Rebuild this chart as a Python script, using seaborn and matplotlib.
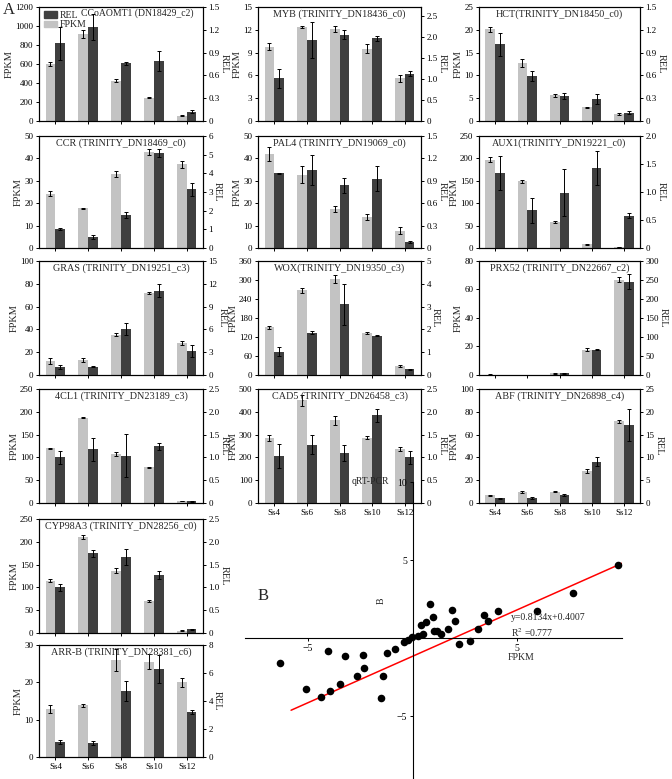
import numpy as np
import pandas as pd
import matplotlib
matplotlib.use("Agg")
import matplotlib.pyplot as plt
import matplotlib.patches as mpatches
import seaborn as sns

sns.set_theme(style="ticks")
plt.rcParams["font.family"] = ["Liberation Serif", "DejaVu Serif"]
plt.rcParams["mathtext.fontset"] = "stix"

STAGES = ["Ss4", "Ss6", "Ss8", "Ss10", "Ss12"]
LIGHT = "#c3c3c3"
DARK = "#3f3f3f"

# ---------------- data ----------------
CCOAOMT1_FPKM = [600, 915, 425, 245, 55]
CCOAOMT1_FPKM_ERR = [22, 40, 15, 4, 5]
CCOAOMT1_REL = [1.02, 1.24, 0.76, 0.79, 0.125]
CCOAOMT1_REL_ERR = [0.22, 0.17, 0.02, 0.13, 0.02]

MYB_FPKM = [9.8, 12.4, 12.1, 9.5, 5.6]
MYB_FPKM_ERR = [0.45, 0.15, 0.35, 0.6, 0.45]
MYB_REL = [1.02, 1.93, 2.06, 1.97, 1.13]
MYB_REL_ERR = [0.23, 0.43, 0.1, 0.06, 0.06]

HCT_FPKM = [20.1, 12.7, 5.6, 3.0, 1.6]
HCT_FPKM_ERR = [0.6, 0.8, 0.3, 0.1, 0.2]
HCT_REL = [1.01, 0.59, 0.33, 0.29, 0.11]
HCT_REL_ERR = [0.15, 0.07, 0.04, 0.06, 0.02]

CCR_FPKM = [24.3, 17.7, 33.0, 43.0, 37.3]
CCR_FPKM_ERR = [1.3, 0.3, 1.2, 1.3, 1.5]
CCR_REL = [1.0, 0.6, 1.78, 5.1, 3.15]
CCR_REL_ERR = [0.05, 0.1, 0.17, 0.2, 0.35]

PAL4_FPKM = [42.0, 32.8, 17.4, 13.8, 7.7]
PAL4_FPKM_ERR = [3.0, 4.0, 1.5, 1.5, 1.5]
PAL4_REL = [1.0, 1.05, 0.84, 0.93, 0.08]
PAL4_REL_ERR = [0.01, 0.2, 0.1, 0.17, 0.01]

AUX1_FPKM = [197, 149, 58, 8, 2]
AUX1_FPKM_ERR = [6, 3, 2, 0.5, 0.3]
AUX1_REL = [1.34, 0.67, 0.99, 1.43, 0.58]
AUX1_REL_ERR = [0.31, 0.22, 0.42, 0.3, 0.04]

GRAS_FPKM = [12.0, 13.0, 35.5, 72.0, 28.0]
GRAS_FPKM_ERR = [2.5, 2.0, 1.5, 1.0, 2.0]
GRAS_REL = [1.05, 1.1, 6.0, 11.1, 3.2]
GRAS_REL_ERR = [0.3, 0.1, 0.8, 0.9, 0.8]

WOX_FPKM = [151, 268, 303, 133, 28]
WOX_FPKM_ERR = [5, 8, 12, 3, 2]
WOX_REL = [1.03, 1.85, 3.1, 1.73, 0.25]
WOX_REL_ERR = [0.18, 0.07, 0.9, 0.03, 0.03]

PRX52_FPKM = [0.3, 0.2, 1.2, 17.8, 67.0]
PRX52_FPKM_ERR = [0.1, 0.1, 0.2, 0.8, 2.0]
PRX52_REL = [1.0, 0.5, 4.0, 67.0, 245.0]
PRX52_REL_ERR = [0.2, 0.1, 0.5, 1.5, 20.0]

CL1_FPKM = [120, 187, 107, 78, 4]
CL1_FPKM_ERR = [1.5, 1.0, 4.0, 2.0, 0.5]
CL1_REL = [1.0, 1.18, 1.04, 1.24, 0.04]
CL1_REL_ERR = [0.14, 0.25, 0.48, 0.08, 0.01]

CAD5_FPKM = [285, 450, 362, 287, 236]
CAD5_FPKM_ERR = [15, 25, 18, 7, 8]
CAD5_REL = [1.03, 1.28, 1.1, 1.92, 1.0]
CAD5_REL_ERR = [0.26, 0.21, 0.17, 0.14, 0.15]

ABF_FPKM = [6.8, 9.5, 10.0, 28.0, 71.5]
ABF_FPKM_ERR = [0.5, 0.8, 0.5, 1.5, 1.0]
ABF_REL = [1.0, 1.15, 1.8, 9.1, 17.2]
ABF_REL_ERR = [0.2, 0.2, 0.2, 1.0, 3.5]

CYP98A3_FPKM = [115, 210, 137, 70, 5]
CYP98A3_FPKM_ERR = [3, 4, 5, 2, 1]
CYP98A3_REL = [1.0, 1.75, 1.67, 1.27, 0.08]
CYP98A3_REL_ERR = [0.08, 0.08, 0.17, 0.08, 0.01]

ARRB_FPKM = [12.8, 13.8, 26.0, 25.5, 20.0]
ARRB_FPKM_ERR = [1.0, 0.5, 3.0, 2.0, 1.2]
ARRB_REL = [1.07, 1.0, 4.7, 6.3, 3.2]
ARRB_REL_ERR = [0.15, 0.15, 0.7, 1.0, 0.15]

# scatter (panel B): FPKM vs qRT-PCR changes
SCATTER_FPKM = [9.81, 7.66, 5.95, 4.08, 3.61, 3.41, 3.13, 2.75, 2.22, 2.03, 1.70, 1.36, 1.17,
                0.98, 0.84, 0.64, 0.41, 0.26, -0.02, -0.21, -0.41, -0.84, -1.22, -1.41,
                -1.50, -2.32, -2.65, -3.46, -3.94, -4.37, -5.09, -6.33, -4.04, -3.22,
                -2.36, 0.50, 1.00, 1.89]
SCATTER_QPCR = [4.69, 2.90, 1.75, 1.75, 1.11, 1.49, 0.60, -0.17, -0.36, 1.11, 0.60, 0.28, 0.47,
                1.36, 2.19, 1.04, 0.85, 0.15, 0.08, -0.11, -0.24, -0.68, -0.94, -2.41,
                -3.82, -1.90, -2.41, -2.92, -3.37, -3.76, -3.24, -1.58, -0.81, -1.13,
                -1.07, 0.28, 0.47, 1.81]
# ends of the red fitted line as drawn in the picture
FIT_LINE_X = [-5.8, 10.0]
FIT_LINE_Y = [-4.6, 4.8]

PANELS = [
    # title, fpkm, fpkm_err, rel, rel_err, col, row, fpkm_max, fpkm_step, rel_max, rel_ticks
    ("CCoAOMT1 (DN18429_c2)", CCOAOMT1_FPKM, CCOAOMT1_FPKM_ERR, CCOAOMT1_REL, CCOAOMT1_REL_ERR, 0, 0, 1200, 200, 1.5, [0, 0.3, 0.6, 0.9, 1.2, 1.5]),
    ("MYB (TRINITY_DN18436_c0)", MYB_FPKM, MYB_FPKM_ERR, MYB_REL, MYB_REL_ERR, 1, 0, 15, 3, 2.72, [0, 0.5, 1.0, 1.5, 2.0, 2.5]),
    ("HCT(TRINITY_DN18450_c0)", HCT_FPKM, HCT_FPKM_ERR, HCT_REL, HCT_REL_ERR, 2, 0, 25, 5, 1.5, [0, 0.3, 0.6, 0.9, 1.2, 1.5]),
    ("CCR (TRINITY_DN18469_c0)", CCR_FPKM, CCR_FPKM_ERR, CCR_REL, CCR_REL_ERR, 0, 1, 50, 10, 6, [0, 1, 2, 3, 4, 5, 6]),
    ("PAL4 (TRINITY_DN19069_c0)", PAL4_FPKM, PAL4_FPKM_ERR, PAL4_REL, PAL4_REL_ERR, 1, 1, 50, 10, 1.5, [0, 0.3, 0.6, 0.9, 1.2, 1.5]),
    ("AUX1(TRINITY_DN19221_c0)", AUX1_FPKM, AUX1_FPKM_ERR, AUX1_REL, AUX1_REL_ERR, 2, 1, 250, 50, 2.0, [0, 0.5, 1.0, 1.5, 2.0]),
    ("GRAS (TRINITY_DN19251_c3)", GRAS_FPKM, GRAS_FPKM_ERR, GRAS_REL, GRAS_REL_ERR, 0, 2, 100, 20, 15, [0, 3, 6, 9, 12, 15]),
    ("WOX(TRINITY_DN19350_c3)", WOX_FPKM, WOX_FPKM_ERR, WOX_REL, WOX_REL_ERR, 1, 2, 360, 60, 5, [0, 1, 2, 3, 4, 5]),
    ("PRX52 (TRINITY_DN22667_c2)", PRX52_FPKM, PRX52_FPKM_ERR, PRX52_REL, PRX52_REL_ERR, 2, 2, 80, 20, 300, [0, 50, 100, 150, 200, 250, 300]),
    ("4CL1 (TRINITY_DN23189_c3)", CL1_FPKM, CL1_FPKM_ERR, CL1_REL, CL1_REL_ERR, 0, 3, 250, 50, 2.5, [0, 0.5, 1.0, 1.5, 2.0, 2.5]),
    ("CAD5 (TRINITY_DN26458_c3)", CAD5_FPKM, CAD5_FPKM_ERR, CAD5_REL, CAD5_REL_ERR, 1, 3, 500, 100, 2.5, [0, 0.5, 1.0, 1.5, 2.0, 2.5]),
    ("ABF (TRINITY_DN26898_c4)", ABF_FPKM, ABF_FPKM_ERR, ABF_REL, ABF_REL_ERR, 2, 3, 100, 20, 25, [0, 5, 10, 15, 20, 25]),
    ("CYP98A3 (TRINITY_DN28256_c0)", CYP98A3_FPKM, CYP98A3_FPKM_ERR, CYP98A3_REL, CYP98A3_REL_ERR, 0, 4, 250, 50, 2.5, [0, 0.5, 1.0, 1.5, 2.0, 2.5]),
    ("ARR-B (TRINITY_DN28381_c6)", ARRB_FPKM, ARRB_FPKM_ERR, ARRB_REL, ARRB_REL_ERR, 0, 5, 30, 10, 8, [0, 2, 4, 6, 8]),
]

W, H = 672, 779
COLS = [(39, 203), (258, 421), (479, 640)]
ROWS = [(7, 121), (136, 248), (261, 375), (389, 503), (519, 633), (645, 757)]
BOTTOM_ROW = {0: 5, 1: 3, 2: 3}

fig = plt.figure(figsize=(W / 100, H / 100), dpi=100)


def fmt_tick(v, step):
    if v == 0:
        return "0"
    if step < 1:
        return f"{v:.1f}"
    return f"{int(round(v))}"


def style_axis(a):
    for s in a.spines.values():
        s.set_linewidth(0.8)
        s.set_color("black")
    a.tick_params(direction="out", length=2.5, width=0.7, labelsize=6.5, pad=1.5, colors="black")


for (title, fp, fpe, rel, rele, c, r, fmax, fstep, rmax, rticks) in PANELS:
    x0, x1 = COLS[c]
    y0, y1 = ROWS[r]
    ax = fig.add_axes([x0 / W, 1 - y1 / H, (x1 - x0) / W, (y1 - y0) / H])
    df_f = pd.DataFrame({"stage": STAGES, "value": fp, "series": "FPKM"})
    df_r = pd.DataFrame({"stage": STAGES, "value": rel, "series": "REL"})
    sns.barplot(data=df_f, x="stage", y="value", hue="series", hue_order=["FPKM", "REL"],
                palette={"FPKM": LIGHT, "REL": DARK}, dodge=True, width=0.6,
                errorbar=None, saturation=1, legend=False, linewidth=0, ax=ax)
    ax2 = ax.twinx()
    sns.barplot(data=df_r, x="stage", y="value", hue="series", hue_order=["FPKM", "REL"],
                palette={"FPKM": LIGHT, "REL": DARK}, dodge=True, width=0.6,
                errorbar=None, saturation=1, legend=False, linewidth=0, ax=ax2)
    idx = np.arange(len(STAGES))
    ax.errorbar(idx - 0.15, fp, yerr=fpe, fmt="none", ecolor="black", elinewidth=0.7,
                capsize=1.5, capthick=0.7, zorder=5)
    ax2.errorbar(idx + 0.15, rel, yerr=rele, fmt="none", ecolor="black", elinewidth=0.7,
                 capsize=1.5, capthick=0.7, zorder=5)
    ax.set_xlim(-0.5, len(STAGES) - 0.5)
    ax.set_ylim(0, fmax)
    ax2.set_ylim(0, rmax)
    fticks = np.arange(0, fmax + fstep / 2, fstep)
    ax.set_yticks(fticks)
    ax.set_yticklabels([fmt_tick(v, fstep) for v in fticks])
    rstep = rticks[1] - rticks[0]
    ax2.set_yticks(rticks)
    ax2.set_yticklabels([fmt_tick(v, rstep) for v in rticks])
    style_axis(ax)
    style_axis(ax2)
    ax.set_xlabel("")
    ax2.set_xlabel("")
    ax.set_ylabel("FPKM", fontsize=7.5, labelpad=1)
    ax2.set_ylabel("REL", fontsize=7.5, rotation=270, va="bottom", labelpad=0)
    ax.set_xticks(idx)
    if BOTTOM_ROW[c] == r:
        ax.set_xticklabels(STAGES, fontsize=6.5)
    else:
        ax.set_xticklabels([])
    ax2.tick_params(axis="x", bottom=False, labelbottom=False)
    if r == 0 and c == 0:
        ax2.text(0.6, 0.985, title, transform=ax2.transAxes, ha="center", va="top", fontsize=7.0)
        handles = [mpatches.Patch(color=DARK, label="REL"), mpatches.Patch(color=LIGHT, label="FPKM")]
        ax2.legend(handles=handles, loc="upper left", bbox_to_anchor=(-0.01, 1.025), frameon=False,
                   fontsize=7, handlelength=1.3, handleheight=0.6, labelspacing=0.05,
                   handletextpad=0.3, borderpad=0.2)
    else:
        ax2.text(0.5, 0.975, title, transform=ax2.transAxes, ha="center", va="top", fontsize=7.3)

fig.text(3 / W, 1 - 2 / H, "A", fontsize=12, ha="left", va="top")
fig.text(258 / W, 1 - 588 / H, "B", fontsize=12, ha="left", va="top")

# ---------------- panel B ----------------
bx0, bx1, by0, by1 = 245, 622, 482, 779
axb = fig.add_axes([bx0 / W, 1 - by1 / H, (bx1 - bx0) / W, (by1 - by0) / H])
df_s = pd.DataFrame({"FPKM": SCATTER_FPKM, "qRT-PCR": SCATTER_QPCR})
sns.scatterplot(data=df_s, x="FPKM", y="qRT-PCR", color="black", s=30, linewidth=0,
                ax=axb, zorder=3)
sns.lineplot(x=FIT_LINE_X, y=FIT_LINE_Y, color="red", linewidth=1.1, ax=axb, zorder=2)
axb.set_xlim(-8, 10)
axb.set_ylim(-9, 10)
axb.spines["left"].set_position(("data", 0))
axb.spines["bottom"].set_position(("data", 0))
axb.spines["top"].set_visible(False)
axb.spines["right"].set_visible(False)
for s in ("left", "bottom"):
    axb.spines[s].set_linewidth(0.8)
    axb.spines[s].set_color("black")
axb.set_xticks([-5, 5])
axb.set_yticks([-5, 5, 10])
axb.tick_params(direction="out", length=2.5, width=0.7, labelsize=7, colors="black", pad=1.5)
axb.set_xlabel("")
axb.set_ylabel("")
axb.text(5.2, -0.95, "FPKM", fontsize=7, ha="center", va="top")
axb.text(-1.1, 10, "qRT-PCR", fontsize=7, ha="right", va="center")
axb.text(-1.5, 2.4, "B", fontsize=7, ha="center", va="center", rotation=90)
axb.text(4.7, 1.3, "y=0.8134x+0.4007", fontsize=7, ha="left", va="center")
axb.text(4.7, 0.4, "R$^2$ =0.777", fontsize=7, ha="left", va="center")
axb.patch.set_alpha(0)

fig.savefig("out.png", dpi=100)
